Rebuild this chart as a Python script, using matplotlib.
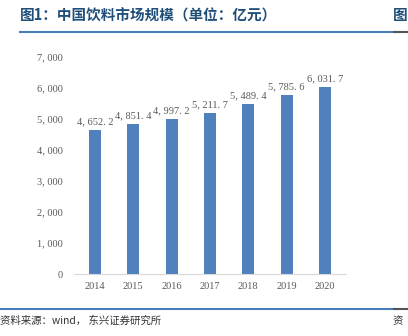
import matplotlib.pyplot as plt
from matplotlib.lines import Line2D

plt.rcParams['font.family'] = ['Noto Sans CJK SC', 'DejaVu Sans']

# data
years = ['2014', '2015', '2016', '2017', '2018', '2019', '2020']
market_size = [4652.2, 4851.4, 4997.2, 5211.7, 5489.4, 5785.6, 6031.7]
y_ticks = [0, 1000, 2000, 3000, 4000, 5000, 6000, 7000]

title = '图1：中国饮料市场规模（单位：亿元）'
source = '资料来源：wind， 东兴证券研究所'

num_font = 'Liberation Serif'
text_gray = '#595959'


def fmt(v, decimals=0):
    s = f'{v:,.{decimals}f}'
    return s.replace(',', ', ').replace('.', '. ')


fig = plt.figure(figsize=(4.08, 3.36), dpi=100)
ax = fig.add_axes([0.181, 0.1845, 0.667, 0.6455])

x = range(len(years))
bars = ax.bar(x, market_size, width=0.31, color='#4F81BD')

for xi, v in zip(x, market_size):
    ax.text(xi, v + 120, fmt(v, 1), ha='center', va='bottom',
            fontsize=7.5, color=text_gray, family=num_font)

ax.set_xlim(-0.55, 6.55)
ax.set_ylim(0, 7000)
ax.set_xticks(list(x))
ax.set_xticklabels(years, family=num_font, fontsize=7.5, color=text_gray)
ax.set_yticks(y_ticks)
ax.set_yticklabels([fmt(t) for t in y_ticks], family=num_font,
                   fontsize=7.5, color=text_gray)
ax.tick_params(length=0, pad=8)
ax.tick_params(axis='x', pad=6)
for side in ['top', 'right', 'left']:
    ax.spines[side].set_visible(False)
ax.spines['bottom'].set_color('#D9D9D9')

# header and footer
fig.text(0.049, 0.955, title, fontsize=10.5, fontweight='bold',
         color='#1F4E79', va='center')
fig.text(0.962, 0.955, '图', fontsize=10.5, fontweight='bold',
         color='#1F4E79', va='center')
fig.add_artist(Line2D([0.049, 0.965], [0.905, 0.905], color='#4A7EBB',
                      lw=1.5, transform=fig.transFigure))
fig.add_artist(Line2D([0.965, 1.0], [0.905, 0.905], color='#555555',
                      lw=1.5, transform=fig.transFigure))
fig.add_artist(Line2D([0.0, 0.965], [0.08, 0.08], color='#4A7EBB',
                      lw=1.5, transform=fig.transFigure))
fig.add_artist(Line2D([0.965, 1.0], [0.08, 0.08], color='#555555',
                      lw=1.5, transform=fig.transFigure))
fig.text(0.0, 0.045, source, fontsize=7.5, color='#333333', va='center',
         style='italic')
fig.text(0.962, 0.045, '资', fontsize=7.5, color='#333333', va='center')

fig.savefig('out.png', dpi=100)
